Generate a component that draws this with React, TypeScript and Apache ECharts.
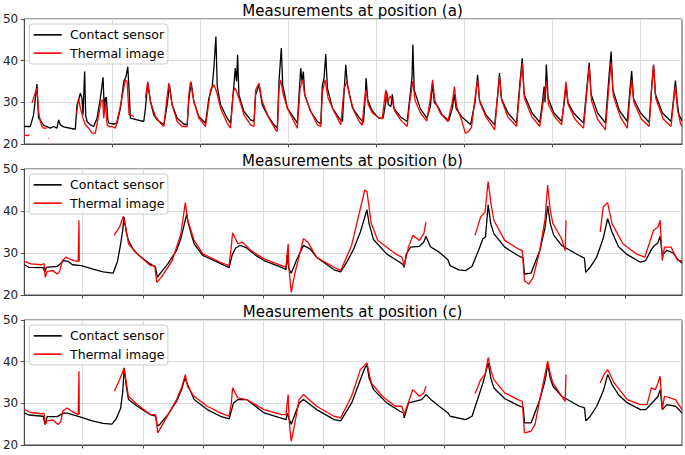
import React, { useEffect, useRef } from "react";
import * as echarts from "echarts";

// ---------- data (time index, temperature °C) ----------
const panelTitles = ["Measurements at position (a)", "Measurements at position (b)", "Measurements at position (c)"];
const seriesNames = ["Contact sensor", "Thermal image"];
const yTicks = [20, 30, 40, 50];

type P = [number, number] | null;

const contactA: P[] = [
  [0,24.2],[13.7,24.2],[21.3,27.0],[28.9,34.4],[32.7,26.2],[36.6,25.8],[44.2,24.5],[59.4,23.8],[67.1,24.2],[74.7,23.8],[78.5,25.8],[82.3,24.6],[90,24.1],[112.9,23.6],[116.7,23.6],[120.5,29.4],[124.3,30.6],[128.1,32.2],[131.9,31.0],[134.2,27.0],[138,37.4],[140.3,27.0],[143.4,25.4],[151,24.6],[158.6,24.2],[166.3,26.2],[173.9,31.0],[180,36.0],[183,27.8],[185.3,31.0],[187.6,31.2],[190.7,26.2],[193,25.0],[204.4,24.8],[212,25.0],[219.7,28.6],[227.3,35.0],[232.6,36.2],[236.5,38.6],[239.5,33.0],[242.6,26.2],[257.8,25.8],[273.1,25.4],[276.9,28.6],[282.2,34.6],[288.3,30.2],[296,27.0],[303.6,25.8],[318.9,24.6],[326.5,29.4],[331.8,34.2],[337.9,29.4],[349.4,26.2],[364.6,24.8],[372.3,24.6],[376,30.6],[381.4,34.8],[387.5,30.2],[398.9,26.6],[414.2,25.0],[421.9,31.0],[429.5,33.8],[433.3,38.2],[437.9,45.8],[441,33.8],[448.6,29.4],[463.8,26.2],[471.5,25.0],[479.1,34.2],[482.1,38.2],[485.2,35.0],[487.5,41.4],[490.5,31.8],[502,27.8],[517.2,25.8],[524.9,25.4],[528.7,31.8],[536.3,34.2],[543.9,29.4],[555.4,27.0],[570.6,24.6],[578.3,23.8],[582.1,35.0],[584.4,38.6],[587.4,43.0],[590.5,34.2],[601.2,28.6],[616.4,26.2],[624,25.0],[627.9,31.8],[631.7,38.2],[634.7,35.0],[637.8,37.4],[640.8,31.8],[654.6,27.8],[669.8,25.4],[677.5,24.8],[681.3,34.2],[685.1,35.8],[688.9,41.6],[692.7,33.4],[704.2,28.6],[719.4,26.2],[727.1,25.4],[730.9,32.6],[734.7,39.0],[738.5,34.2],[750,28.6],
  [765,26.4],[775,25.2],[779,31],[781,35.8],[785,30.5],[795,28],[810,26.2],[820,26.2],[826,30],[828,32.6],[832,29.5],[838,29],[841,31.9],[845,28.5],[860,26.5],[875,25.4],[883,33],[886,36],[888,43.9],[891,33],[905,28.5],[920,26.2],[928,29],[933,34.6],[937,30],[945,29],[955,27],[970,25.6],[978,28.5],[983,31.9],[987,28.5],[1000,26.5],[1020,24.7],[1030,30],[1036,36.6],[1040,30.5],[1055,27],[1075,24.6],[1082,32],[1086,37],[1090,31],[1105,27.5],[1125,25],[1132,34],[1138,40.6],[1142,32],[1160,27.5],[1178,25.2],[1184,30],[1188,33.8],[1190,30],[1193,39.1],[1197,31],[1210,27.5],[1228,25.4],[1234,30],[1238,34.2],[1242,30],[1255,27.5],[1278,25],[1286,34],[1291,39.5],[1295,32],[1310,27.5],[1328,25],[1336,36],[1341,42.2],[1345,33],[1360,28],[1378,25.4],[1384,33],[1388,37.5],[1392,31],[1408,27.5],[1428,25.2],[1434,34],[1438,39],[1442,32],[1458,27.5],[1478,25.4],[1484,31],[1488,35.2],[1492,30],[1496,27],[1503,25.6]
];

const thermalA: P[] = [
  [0,22.2],[6,22.0],[12,22.2],null,[17.5,29.8],[25,32.2],[28.9,33.4],[32.7,27.8],[36.6,25.4],[40.4,24.2],[44.2,23.8],[51.8,23.8],null,[55.6,21.4],[57,21.3],null,
  [119,27.0],[124.3,31.0],[128.1,28.6],[134.2,26.2],[139.6,24.6],[147.2,23.8],[154.8,22.6],[162.4,22.6],[170.1,27.0],[175.4,30.2],[179.2,30.6],[181.5,26.2],[185.3,29.8],[189.2,24.6],[193,24.2],[200.6,24.2],[208.2,23.8],[219.7,29.0],[227.3,33.4],[231.1,35.4],[234.9,35.0],[239.5,27.0],[242.6,27.0],[250.2,26.6],null,
  [276.9,31.0],[282.2,35.0],[288.3,30.2],[299.8,26.6],[311.2,25.0],[318.9,24.2],[325,30.2],[330.3,34.6],[337.9,29.4],[349.4,25.4],[360.8,24.2],[372.3,24.2],[376,31.8],[379.9,35.0],[387.5,30.2],[398.9,26.2],[414.2,24.2],[425.7,33.0],[433.3,34.2],[439.4,32.6],[448.6,28.6],[463.8,25.0],[471.5,23.8],[477.6,32.6],[482.1,33.4],[490.5,31.0],[502,27.0],[517.2,24.6],[524.9,24.2],[528.7,33.0],[536.3,34.6],[543.9,30.2],[559.2,26.2],[574.5,23.4],[578.3,23.0],[582.1,33.4],[585.9,35.4],[592,31.8],[601.2,28.6],[616.4,25.4],[624,23.8],[630.2,33.4],[636.3,35.4],[640.8,31.8],[654.6,27.8],[669.8,24.6],[677.5,24.2],[681.3,32.6],[687.4,35.4],[694.3,31.0],[708,27.8],[723.2,24.6],[730.9,33.4],[737,35.0],[744.6,31.0],[753.8,27.8],
  [765,25.5],[772,24.5],[777,30],[781,33],[786,29.5],[795,27.5],[810,26.3],[818,26],[823,30.5],[826,33],[830,30],[836,31.5],[841,30.5],[846,28],[860,25.8],[875,24.2],[882,31],[888,35.1],[893,30.5],[905,27.5],[920,25.5],[928,31],[933,35.4],[938,30.5],[950,27.5],[968,25.4],[978,30],[983,33.8],[988,29],[1000,25.5],[1008,22.6],[1015,23],[1022,24],[1030,31],[1036,35.4],[1041,30],[1055,26.5],[1075,23.4],[1081,31],[1086,36.2],[1091,30.5],[1105,26.5],[1125,24.2],[1132,33],[1138,39.4],[1143,31],[1160,26.5],[1178,24.2],[1187,31],[1193,35],[1198,29.5],[1212,26.5],[1228,24.6],[1234,31],[1238,35],[1243,29.5],[1258,26],[1278,23.8],[1286,33],[1291,38.6],[1296,30.5],[1310,26],[1328,23.4],[1336,34],[1341,39.5],[1346,31.5],[1362,26.5],[1378,23.8],[1384,31.5],[1388,35.4],[1393,30],[1410,26],[1428,24.2],[1434,34],[1438,39],[1443,31],[1460,26],[1478,24.2],[1484,30.5],[1488,33.8],[1493,28],[1500,24.8],[1503,24.2]
];

const contactB: P[] = [
  [4.8,27.2],[15,26.6],[48,26.5],[52,25.4],[55,26.6],[80,26.8],[88,27.5],[95,28.2],[105,28.0],[115,27.2],[135,27.0],[160,26.2],[185,25.5],[207.8,25.2],[217.8,28],[224.8,32],[229.8,35.5],[232.8,38.6],[237.8,35],[242.8,33],[252.8,31],[262.8,29.8],[277.8,28.5],[292.8,27.4],[304.8,26.6],[308.8,24.2],[312.8,24.8],[332.8,27.4],[352.8,30.6],[362.8,33.5],[370.8,37],[375.8,39.2],[379.8,37],[392.8,32.2],[412.8,29.4],[442.8,28.0],[472.8,26.5],[479.8,29.5],[487.8,31.2],[497.8,31.8],[512.8,31.2],[532.8,29.5],[552.8,28.2],[592.8,26.6],[602.8,26.0],[605.8,29.5],[608.8,26.5],[614.8,25.2],[627.8,28.5],[642.8,31.8],[657.8,31],[672.8,29],[712.8,26],[727.8,25.5],[742.8,28],[757.8,31],[772.8,35],[782.8,38.5],[787.8,40.3],[792.8,37],[802.8,33.2],[832.8,29.8],[862.8,27.8],[870.8,27.2],[872.8,26.6],[877.8,29.8],[887.8,31.4],[907.8,31.6],[917.8,32.6],[922.8,34],[932.8,31.5],[952.8,30.2],[972.8,28.4],[977.8,27.0],[997.8,26.0],[1012.8,25.8],[1027.8,26.8],[1042.8,30.6],[1052.8,33.4],[1058.8,33.8],[1064.8,41.5],[1070.8,37],[1077.8,34.6],[1102.8,31.4],[1132.8,29.4],[1144.8,28.8],[1147.8,25],[1162.8,25.2],[1182.8,30.6],[1194.8,36],[1200.8,41.2],[1206.8,37],[1214.8,34.2],[1232.8,31.8],[1272.8,29.4],[1284.8,28.8],[1287.8,25.4],[1297.8,26.6],[1312.8,29],[1327.8,33.5],[1337.8,38.2],[1347.8,35],[1362.8,31.5],[1382.8,29.6],[1412.8,27.8],[1424.8,28.2],[1437.8,30.8],[1444.8,31.8],[1452.8,32.4],[1457.8,34],[1462.8,29.5],[1472.8,30.6],[1487.8,30],[1497.8,28.5],[1507.8,27.6]
];

const thermalB: P[] = [
  [4.8,28.0],[20,27.4],[45,27.2],[50,27.5],[52.8,24.2],[57,25.6],[70,25.8],[80,25.0],[85,25.5],[92,28.2],[100,29.0],[108,28.6],[118,28.2],[128,28.0],[129.8,37.8],[130.5,28.0],null,
  [209.8,34.2],[222.8,36.2],[230.8,38.7],[237,36],[242.8,32.2],[262.8,29.8],[292.8,27.0],[302.8,27.0],[307.8,23.0],[317.8,24.2],[342.8,28.2],[362.8,34.6],[368,38.5],[372.8,42.0],[378,38],[392.8,33.0],[412.8,29.8],[452.8,27.8],[472.8,27.0],[477.8,31.4],[480.8,34.8],[492.8,32.2],[502.8,32.6],[522.8,30.6],[552.8,28.6],[592.8,27.0],[602.8,26.6],[607.8,32.2],[610,26],[614.8,20.6],[622.8,25.0],[642.8,33.4],[652.8,32.6],[672.8,29.0],[712.8,26.6],[727.8,25.8],[752.8,31.8],[772.8,40.6],[782.8,45.0],[787.8,44.6],[797.8,37.0],[812.8,33.0],[852.8,29.8],[867.8,29.0],[872.8,27.0],[882.8,31.4],[892.8,34.2],[907.8,33.0],[917.8,34.6],[922.8,37.4],null,
  [1034.8,34.2],[1047.8,38.6],[1057.8,39.8],[1064.8,47.0],[1071,42],[1077.8,37.8],[1102.8,33.0],[1132.8,31.0],[1142.8,30.6],[1147.8,23.4],[1157.8,22.6],[1167.8,24.2],[1182.8,30.6],[1194.8,38],[1200.8,46.2],[1207,40],[1212.8,37.0],[1232.8,33.4],[1240.8,30.6],[1242.8,37.8],null,
  [1320.8,35.0],[1327.8,41.0],[1337.8,42.0],[1347.8,37.0],[1372.8,32.2],[1402.8,29.8],[1422.8,29.0],[1432.8,32.2],[1442.8,35.4],[1452.8,36.2],[1457.8,37.8],[1462.8,28.2],[1467.8,31.4],[1482.8,31.4],[1497.8,28.2],[1507.8,28.2]
];

const contactC: P[] = [
  [4.8,27.7],[15,27.2],[48,26.9],[52.8,24.9],[57,26.8],[80,26.8],[88,27.3],[95,27.7],[105,27.6],[130,26.8],[160,25.8],[185,25.2],[205,25.0],[215,26.3],[225,28.8],[230,33],[233,38.5],[238,34],[243,30.9],[263,29.3],[293,27.3],[305,26.9],[309,24.5],[315,25],[333,27.3],[353,30.5],[365,33.5],[372,36.1],[376,35],[393,30.9],[423,28.5],[453,26.9],[473,26.3],[483,30.1],[493,30.9],[513,30.9],[553,27.7],[603,26.1],[606,27.7],[609,26.5],[615,25.0],[633,30.1],[643,30.9],[673,28.5],[713,26.1],[728,25.8],[753,30.1],[773,35.7],[783,38.5],[788,39.3],[793,36],[803,33.3],[833,30.1],[863,28.1],[871,27.7],[873,26.5],[883,30.1],[913,30.9],[923,32.1],[933,31],[953,29.3],[973,27.7],[978,26.9],[1013,26.1],[1028,26.9],[1043,31.7],[1053,34.9],[1065,39.7],[1071,36],[1078,33.7],[1103,31.1],[1133,29.5],[1145,29.0],[1148,25.3],[1163,25.3],[1183,30.9],[1195,35.5],[1201,39.3],[1207,36],[1213,34.1],[1233,31.7],[1273,29.3],[1285,28.9],[1288,25.8],[1298,26.9],[1313,29.3],[1328,33],[1338,36.9],[1348,34.5],[1363,32],[1383,30.1],[1413,28.5],[1425,28.5],[1443,30.5],[1453,31.7],[1458,33.3],[1463,28.5],[1473,29.7],[1493,29.3],[1507.8,27.7]
];

const thermalC: P[] = [
  [4.8,28.5],[20,27.8],[45,27.5],[50,27.6],[52.8,24.9],[57,25.8],[70,26.0],[82,24.9],[88,25.5],[93,28.2],[103,28.9],[115,28.0],[128,27.3],[129.8,37.7],[130.5,27.3],null,
  [210.8,32.9],[222.8,35.7],[232.8,38.5],[238,35],[242.8,31.7],[262.8,29.7],[292.8,27.3],[304.8,27.3],[309.8,22.9],[322.8,25.3],[352.8,30.9],[365,34],[372.8,36.9],[378,34],[392.8,31.7],[422.8,29.3],[452.8,27.7],[472.8,26.9],[478,30],[480.8,33.7],[492.8,31.3],[512.8,30.9],[552.8,28.5],[592.8,27.3],[602.8,27.3],[607.8,32.1],[610,26],[614.8,20.9],[622.8,25],[632.8,30.9],[642.8,32.1],[672.8,29.3],[712.8,26.9],[727.8,26.5],[752.8,31.7],[772.8,38.1],[787.8,39.7],[797.8,34.9],[822.8,31.7],[852.8,29.3],[867.8,29.3],[872.8,27.3],[892.8,33.3],[907.8,31.7],[917.8,32.5],[922.8,34.1],null,
  [1034.8,32.3],[1047.8,35.7],[1058,37],[1064.8,41.0],[1071,38],[1077.8,35.7],[1102.8,32.5],[1132.8,30.9],[1142.8,30.5],[1147.8,22.9],[1162.8,23.3],[1172,25],[1182.8,30.9],[1194,36.5],[1200.8,40.1],[1207,37],[1212.8,34.9],[1237.8,30.9],[1240.8,30.5],[1242.8,36.9],null,
  [1320.8,34.9],[1330,37],[1337.8,38.1],[1352.8,34.9],[1382.8,30.9],[1412.8,29.7],[1427.8,29.7],[1437.8,33.7],[1447,33.3],[1452.8,34.9],[1457.8,36.5],[1462.8,28.5],[1467.8,31.7],[1492.8,30.9],[1507.8,28.5]
];

const panelData: P[][][] = [
  [contactA, thermalA],
  [contactB, thermalB],
  [contactC, thermalC],
];

// x-axis extents (time index) and grid spacing per panel
const xMin = [0, 4.8, 4.8];
const xMax = [1503, 1507.8, 1507.8];
const xStep = [201.2, 137.8, 137.8];
const xTickCount = [7, 10, 10];

const FONT = "DejaVu Sans";
const colors = ["#000000", "#ff0000"];

function toData(arr: P[]) {
  return arr.map((p) => (p === null ? ["-", "-"] : p));
}

export default function App() {
  const ref = useRef<HTMLDivElement>(null);
  useEffect(() => {
    if (!ref.current) return;
    const chart = echarts.init(ref.current, undefined, { renderer: "svg" });
    const tops = [19, 169, 320];
    const heights = [125, 126, 125];
    const left = 23;
    const width = 659;

    const grid = tops.map((t, i) => ({
      left,
      top: t,
      width,
      height: heights[i],
      show: true,
      borderColor: "#4a4a4a",
      borderWidth: 1,
      backgroundColor: "transparent",
    }));

    const xAxis = tops.map((_, i) => {
      const ticks: number[] = [];
      for (let k = 1; k <= xTickCount[i]; k++) ticks.push(+(k * xStep[i]).toFixed(2));
      return {
        type: "value",
        gridIndex: i,
        min: xMin[i],
        max: xMax[i],
        interval: xStep[i],
        axisLabel: { show: false, customValues: ticks },
        axisTick: { show: true, length: 3.5, lineStyle: { color: "#4a4a4a" }, customValues: ticks },
        axisLine: { show: true, lineStyle: { color: "#4a4a4a" } },
        splitLine: { show: true, lineStyle: { color: "#dcdcdc", width: 1 } },
      };
    });

    const yAxis = tops.map((_, i) => ({
      type: "value",
      gridIndex: i,
      min: yTicks[0],
      max: yTicks[yTicks.length - 1],
      interval: yTicks[1] - yTicks[0],
      axisLabel: { show: true, fontSize: 12, color: "#222", fontFamily: FONT, margin: 6 },
      axisTick: { show: true, length: 3.5, lineStyle: { color: "#4a4a4a" } },
      axisLine: { show: true, lineStyle: { color: "#4a4a4a" } },
      splitLine: { show: true, lineStyle: { color: "#dcdcdc", width: 1 } },
    }));

    const series: any[] = [];
    panelData.forEach((pair, i) => {
      pair.forEach((arr, j) => {
        series.push({
          type: "line",
          name: seriesNames[j],
          xAxisIndex: i,
          yAxisIndex: i,
          data: toData(arr),
          showSymbol: false,
          symbol: "none",
          silent: true,
          z: 2 + j,
          lineStyle: { color: colors[j], width: 1.3 },
          itemStyle: { color: colors[j] },
        });
      });
    });

    const legend = tops.map((t) => ({
      left: 29.3,
      top: t + 5,
      orient: "vertical",
      data: seriesNames,
      icon: "rect",
      itemWidth: 28,
      itemHeight: 1.6,
      itemGap: 4,
      padding: [3.7, 3.4, 3.7, 4.4],
      backgroundColor: "rgba(255,255,255,0.85)",
      borderColor: "#cccccc",
      borderWidth: 1,
      borderRadius: 3,
      selectedMode: false,
      textStyle: { fontSize: 12.5, fontFamily: FONT, color: "#000", lineHeight: 14.3, padding: [0, 0, 0, 3.4] },
    }));

    const graphic = tops.map((t, i) => ({
      type: "text",
      x: left + width / 2,
      y: t - 8,
      style: {
        text: panelTitles[i],
        fontSize: 15,
        fontFamily: FONT,
        fill: "#000",
        align: "center",
        verticalAlign: "middle",
      },
    }));

    chart.setOption({
      animation: false,
      backgroundColor: "#ffffff",
      grid,
      xAxis,
      yAxis,
      series,
      legend,
      graphic,
    } as any);
    return () => chart.dispose();
  }, []);
  return <div ref={ref} style={{ position: "absolute", left: 0, top: 0, width: 685, height: 455 }} />;
}
